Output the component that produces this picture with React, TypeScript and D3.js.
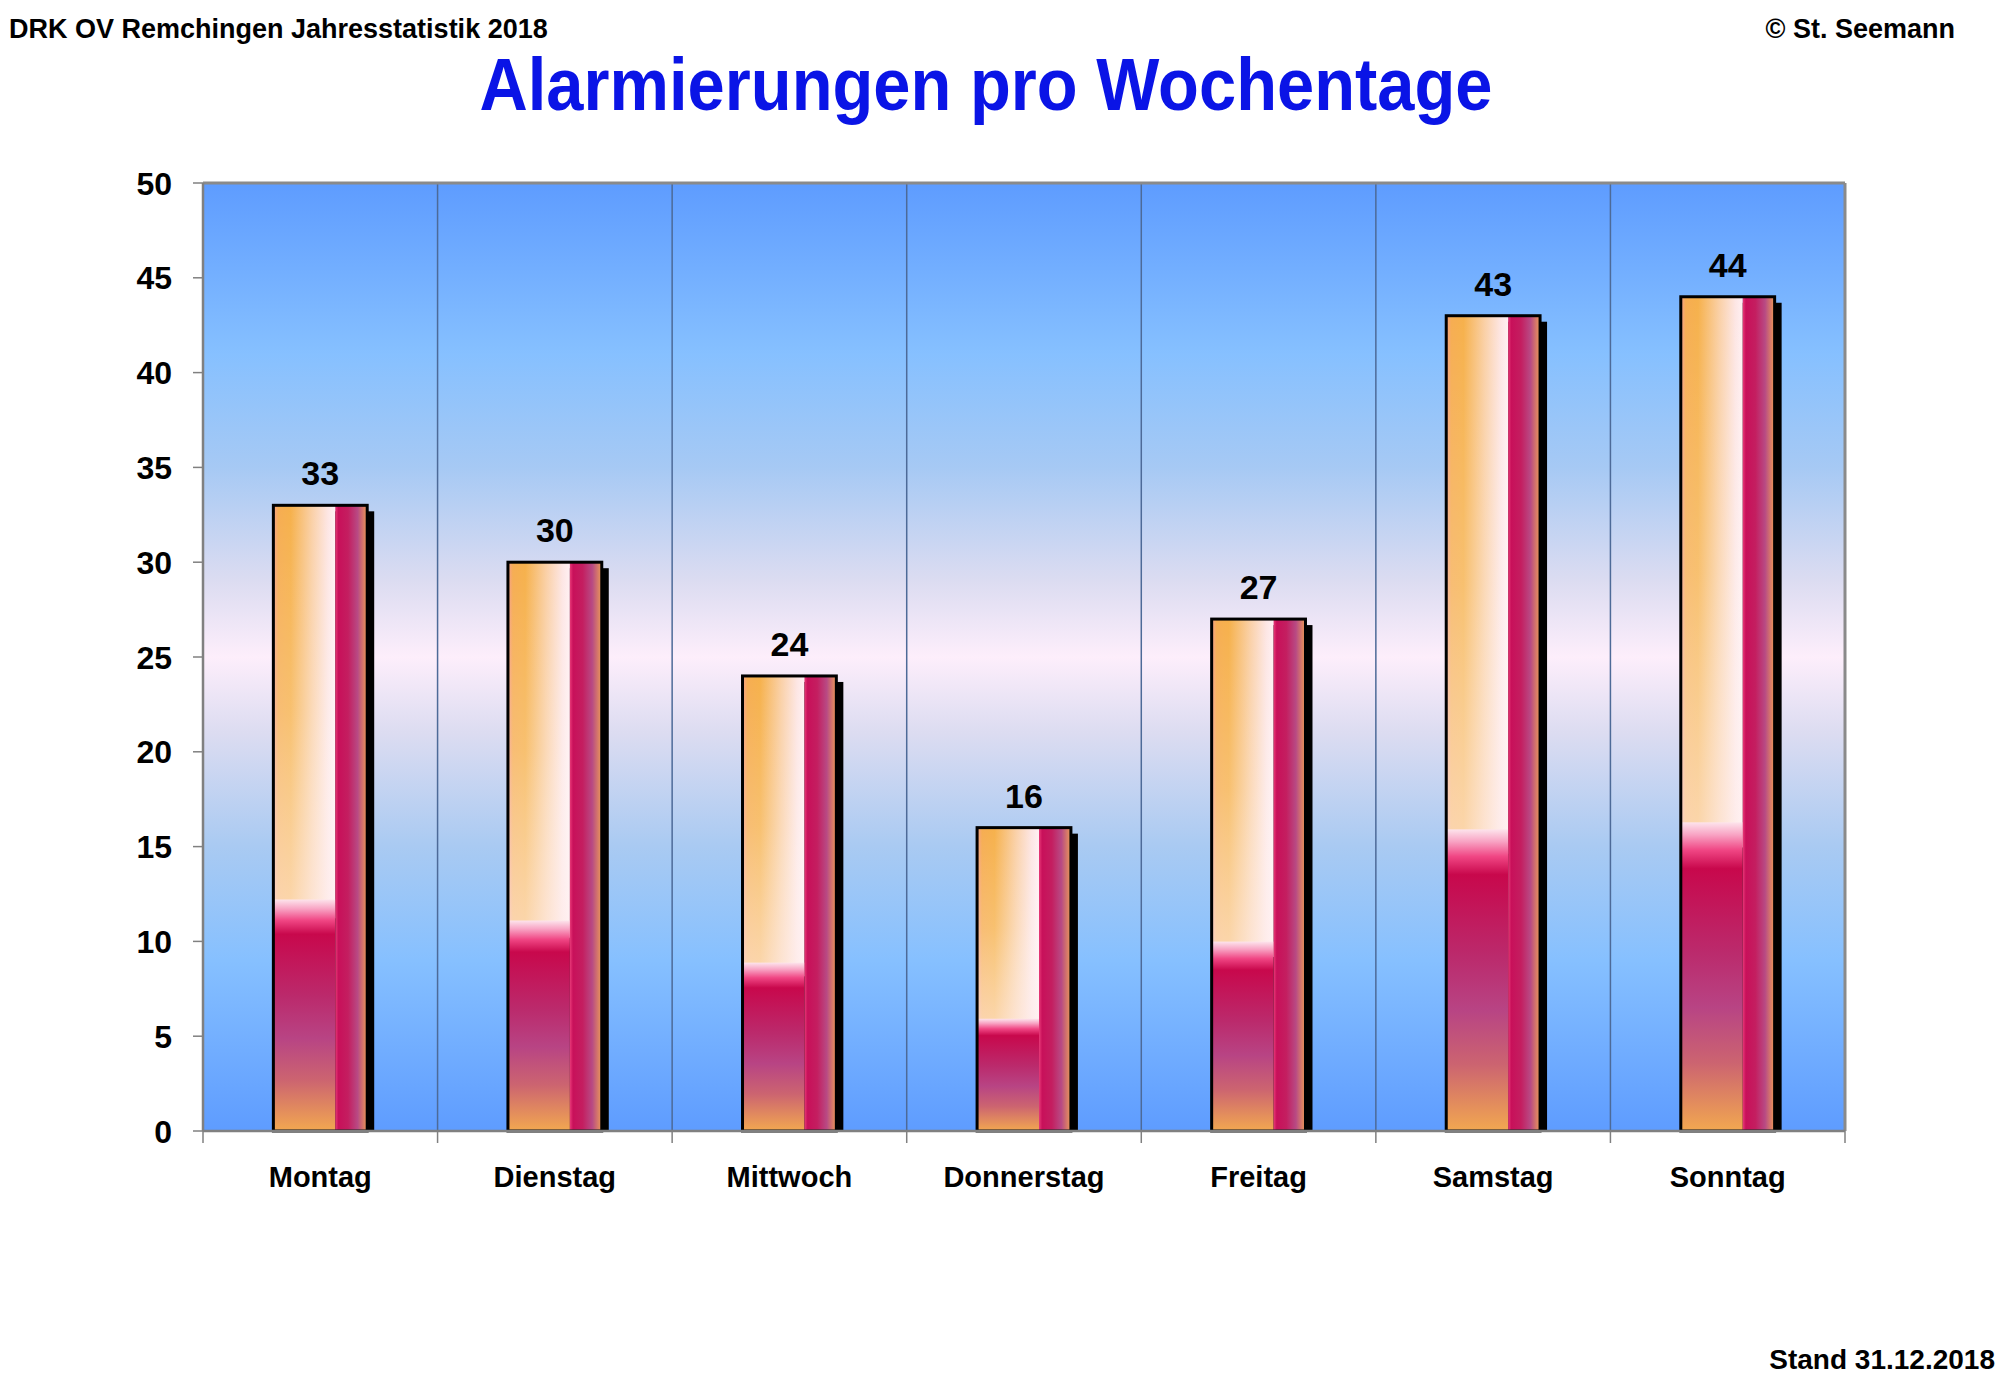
import * as d3 from "d3";
import { useEffect } from "react";
import * as React from "react";

const days = ["Montag", "Dienstag", "Mittwoch", "Donnerstag", "Freitag", "Samstag", "Sonntag"];
const counts = [33, 30, 24, 16, 27, 43, 44];
const yTicks = [0, 5, 10, 15, 20, 25, 30, 35, 40, 45, 50];

const W = 2000;
const H = 1385;
const margin = { top: 183, right: 155, bottom: 254, left: 203 };
const font = "'Liberation Sans', Arial, sans-serif";

export default function App() {
  useEffect(() => {
    document.body.style.margin = "0";
  }, []);

  const x = d3.scaleBand<string>()
    .domain(days)
    .range([margin.left, W - margin.right])
    .paddingInner(0)
    .paddingOuter(0);

  const y = d3.scaleLinear()
    .domain([0, 50])
    .range([H - margin.bottom, margin.top]);

  const bw = x.bandwidth() * 0.4;
  const y0 = y(0);
  const top = y(50);
  const left = margin.left;
  const right = W - margin.right;

  // Grenzen zwischen den Kategorien
  const bounds = days.map(d => x(d)!).concat([right]);

  return (
    <svg width={W} height={H} style={{ display: "block", background: "white" }}>
      <defs>
        <linearGradient id="bg" x1="0" y1="0" x2="0" y2="1">
          <stop offset="0" stopColor="#5e9cff" />
          <stop offset="0.18" stopColor="#86c0ff" />
          <stop offset="0.3" stopColor="#a6c9f4" />
          <stop offset="0.42" stopColor="#dcdcf1" />
          <stop offset="0.5" stopColor="#fdeefb" />
          <stop offset="0.58" stopColor="#dcdcf1" />
          <stop offset="0.7" stopColor="#a9caf2" />
          <stop offset="0.82" stopColor="#86c0ff" />
          <stop offset="1" stopColor="#5e9cff" />
        </linearGradient>
        <linearGradient id="barTopH" x1="0" y1="0" x2="1" y2="0">
          <stop offset="0" stopColor="#f7a08c" />
          <stop offset="0.08" stopColor="#f6ad52" />
          <stop offset="0.28" stopColor="#f6b14c" />
          <stop offset="0.62" stopColor="#fad0a6" />
          <stop offset="0.88" stopColor="#fde6e4" />
          <stop offset="1" stopColor="#fff0f3" />
        </linearGradient>
        <linearGradient id="barTopV" x1="0" y1="0" x2="0" y2="1">
          <stop offset="0" stopColor="#ffffff" stopOpacity="0" />
          <stop offset="0.5" stopColor="#ffffff" stopOpacity="0.2" />
          <stop offset="1" stopColor="#fff0f0" stopOpacity="0.6" />
        </linearGradient>
        <linearGradient id="barBottom" x1="0" y1="0" x2="0" y2="1">
          <stop offset="0" stopColor="#fde4ec" />
          <stop offset="0.04" stopColor="#f8a4c4" />
          <stop offset="0.09" stopColor="#f04684" />
          <stop offset="0.15" stopColor="#c8084c" />
          <stop offset="0.42" stopColor="#bb2a6c" />
          <stop offset="0.6" stopColor="#b84484" />
          <stop offset="0.78" stopColor="#cc6470" />
          <stop offset="1" stopColor="#f2a850" />
        </linearGradient>
        <linearGradient id="barRight" x1="0" y1="0" x2="1" y2="0">
          <stop offset="0" stopColor="#e83a78" />
          <stop offset="0.1" stopColor="#c8105a" />
          <stop offset="0.4" stopColor="#c41e60" />
          <stop offset="0.7" stopColor="#b84a84" />
          <stop offset="1" stopColor="#ec9a56" />
        </linearGradient>
      </defs>

      {/* Kopfzeile */}
      <text x={9} y={38} fontFamily={font} fontWeight="bold" fontSize={27} fill="#000">
        DRK OV Remchingen Jahresstatistik 2018
      </text>
      <text x={1955} y={38} textAnchor="end" fontFamily={font} fontWeight="bold" fontSize={27} fill="#000">
        © St. Seemann
      </text>
      <text x={986} y={110} textAnchor="middle" fontFamily={font} fontWeight="bold" fontSize={74}
        textLength={1013} lengthAdjust="spacingAndGlyphs" fill="#0a14e6">
        Alarmierungen pro Wochentage
      </text>
      <text x={1995} y={1369} textAnchor="end" fontFamily={font} fontWeight="bold" fontSize={28} fill="#000">
        Stand 31.12.2018
      </text>

      {/* Plotfläche */}
      <rect x={left} y={top} width={right - left} height={y0 - top} fill="url(#bg)" />
      {bounds.slice(1, -1).map((bx, i) => (
        <line key={i} x1={bx} x2={bx} y1={top} y2={y0} stroke="#4d6a98" strokeWidth={1.5} />
      ))}
      <line x1={left} x2={right} y1={top} y2={top} stroke="#8a8a8a" strokeWidth={3} />
      <line x1={right} x2={right} y1={top} y2={y0} stroke="#8a8a8a" strokeWidth={3} />
      <line x1={left} x2={left} y1={top} y2={y0} stroke="#808080" strokeWidth={2.5} />

      {/* Balken */}
      {days.map((d, i) => {
        const bx = x(d)! + (x.bandwidth() - bw) / 2;
        const by = y(counts[i]);
        const bh = y0 - by;
        const lw = bw * 0.66;
        return (
          <g key={d}>
            <rect x={bx + 7} y={by + 6} width={bw} height={bh - 6} fill="#000" />
            <rect x={bx} y={by} width={lw} height={bh * 0.66} fill="url(#barTopH)" />
            <rect x={bx} y={by} width={lw} height={bh * 0.66} fill="url(#barTopV)" />
            <rect x={bx} y={by + bh * 0.63} width={lw} height={bh * 0.37} fill="url(#barBottom)" />
            <rect x={bx + lw} y={by} width={bw - lw} height={bh} fill="url(#barRight)" />
            <rect x={bx} y={by} width={bw} height={bh} fill="none" stroke="#000" strokeWidth={3} />
            <text x={bx + bw / 2} y={by - 20} textAnchor="middle" fontFamily={font} fontWeight="bold"
              fontSize={34} fill="#000">
              {counts[i]}
            </text>
          </g>
        );
      })}

      {/* X-Achse */}
      <line x1={left} x2={right} y1={y0} y2={y0} stroke="#808080" strokeWidth={2.5} />
      {bounds.map((bx, i) => (
        <line key={i} x1={bx} x2={bx} y1={y0} y2={y0 + 12} stroke="#808080" strokeWidth={1.5} />
      ))}
      {days.map(d => (
        <text key={d} x={x(d)! + x.bandwidth() / 2} y={1187} textAnchor="middle" fontFamily={font}
          fontWeight="bold" fontSize={29} fill="#000">
          {d}
        </text>
      ))}

      {/* Y-Achse */}
      {yTicks.map(t => (
        <g key={t}>
          <line x1={left - 10} x2={left} y1={y(t)} y2={y(t)} stroke="#808080" strokeWidth={1.5} />
          <text x={172} y={y(t)} dy="0.36em" textAnchor="end" fontFamily={font} fontWeight="bold"
            fontSize={32} fill="#000">
            {t}
          </text>
        </g>
      ))}
    </svg>
  );
}
